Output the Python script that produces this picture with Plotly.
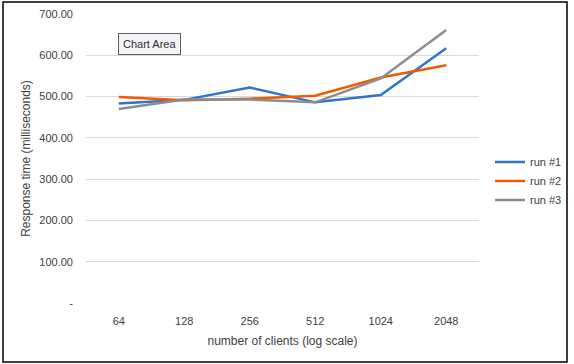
import plotly.graph_objects as go

categories = ["64", "128", "256", "512", "1024", "2048"]
run1 = [483, 492, 522, 486, 504, 617]
run2 = [499, 491, 495, 502, 546, 576]
run3 = [470, 493, 493, 486, 544, 661]
series_names = ["run #1", "run #2", "run #3"]
colors = ["#2E75CC", "#F05A00", "#8C8C8C"]
y_ticks = [0, 100, 200, 300, 400, 500, 600, 700]
y_ticktext = ["-", "100.00", "200.00", "300.00", "400.00", "500.00", "600.00", "700.00"]

fig = go.Figure()
for name, vals, c in zip(series_names, [run1, run2, run3], colors):
    fig.add_trace(go.Scatter(x=categories, y=vals, mode="lines", name=name,
                             line=dict(color=c, width=2.5)))

font = "Liberation Sans"
fig.update_layout(
    width=574, height=364,
    margin=dict(l=86, r=95, t=14, b=61, autoexpand=False),
    paper_bgcolor="white", plot_bgcolor="white",
    font=dict(family=font, size=11, color="#404040"),
    showlegend=True,
    legend=dict(xref="container", yref="container",
                x=490 / 574, y=1 - 181 / 364, xanchor="left", yanchor="middle",
                font=dict(size=11, color="#404040"), tracegroupgap=0,
                itemwidth=30, bgcolor="rgba(0,0,0,0)"),
    xaxis=dict(type="category", range=[-0.5, 5.5], showgrid=False,
               showline=False, ticks="", zeroline=False,
               tickfont=dict(size=11, color="#404040"), ticklabelstandoff=10,
               title=dict(text="number of clients (log scale)",
                          font=dict(size=12, color="#404040"), standoff=10)),
    yaxis=dict(range=[0, 700], tickvals=y_ticks, ticktext=y_ticktext,
               showgrid=True, gridcolor="#D9D9D9", gridwidth=1,
               zeroline=False, showline=False, ticks="",
               tickfont=dict(size=11, color="#404040"), ticklabelstandoff=12,
               title=dict(text="Response time (milliseconds)",
                          font=dict(size=12, color="#404040"), standoff=6)),
    shapes=[dict(type="rect", xref="paper", yref="paper",
                 x0=-83/393, x1=(567 - 86) / 393,
                 y0=(303 - 362) / 289, y1=(303 - 2) / 289,
                 line=dict(color="black", width=1.5), fillcolor="rgba(0,0,0,0)")],
    annotations=[dict(text="Chart Area", xref="paper", yref="paper",
                      x=(149 - 86) / 393, y=(303 - 44) / 289,
                      xanchor="center", yanchor="middle",
                      showarrow=False, font=dict(size=11, color="#303030"),
                      bgcolor="#F4F4F8", bordercolor="#606060", borderwidth=1,
                      borderpad=4)],
)

fig.write_html("out.html", config={"displayModeBar": False},
               post_script="document.body.style.margin='0';document.body.style.overflow='hidden';")
